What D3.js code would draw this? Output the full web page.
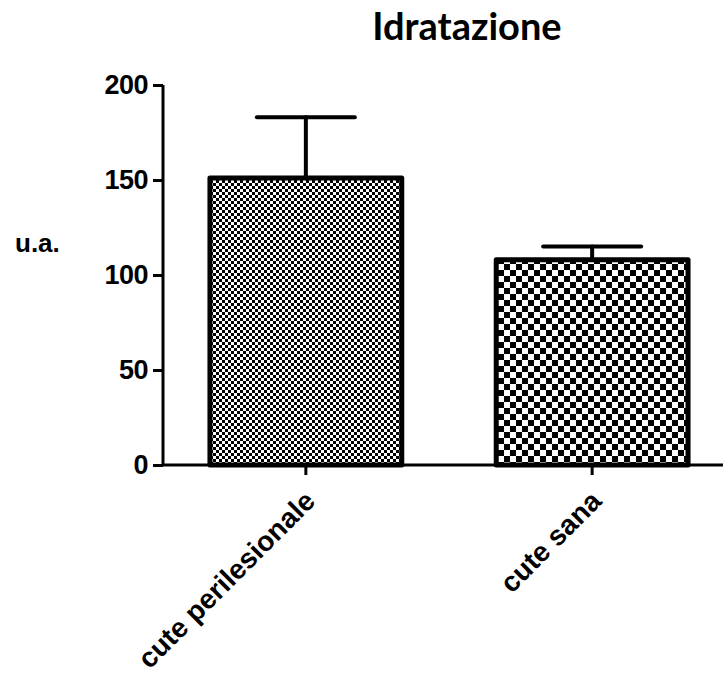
<!DOCTYPE html>
<html>
<head>
<meta charset="utf-8">
<script src="https://cdn.jsdelivr.net/npm/d3@7"></script>
<style>
  html, body { margin: 0; padding: 0; background: #fff; }
  svg { display: block; }
</style>
</head>
<body>
<script>
const categories = ["cute perilesionale", "cute sana"];
const means = [151, 108];
const errors = [32, 7];
const yTicks = [0, 50, 100, 150, 200];
const title = "Idratazione";
const yLabel = "u.a.";

const W = 723, H = 677;
const svg = d3.select("body").append("svg").attr("width", W).attr("height", H);

const defs = svg.append("defs");
function checker(id, s) {
  const p = defs.append("pattern").attr("id", id).attr("patternUnits", "userSpaceOnUse")
    .attr("width", 2 * s).attr("height", 2 * s);
  p.append("rect").attr("width", 2 * s).attr("height", 2 * s).attr("fill", "#fff");
  p.append("rect").attr("width", s).attr("height", s).attr("fill", "#000");
  p.append("rect").attr("x", s).attr("y", s).attr("width", s).attr("height", s).attr("fill", "#000");
}
checker("pat0", 3);
checker("pat1", 6);
const fills = ["url(#pat0)", "url(#pat1)"];

const x0 = 163;
const y = d3.scaleLinear().domain([0, 200]).range([465, 85]);
const x = d3.scaleBand().domain(categories).range([x0, 735]).paddingInner(0.33).paddingOuter(0.164);

// error bars (behind bars)
const eb = svg.append("g").attr("stroke", "#000").attr("stroke-width", 4).attr("stroke-linecap", "round");
categories.forEach((c, i) => {
  const cx = x(c) + x.bandwidth() / 2;
  eb.append("line").attr("x1", cx).attr("x2", cx).attr("y1", y(means[i])).attr("y2", y(means[i] + errors[i]));
  eb.append("line").attr("x1", cx - 49).attr("x2", cx + 49).attr("y1", y(means[i] + errors[i])).attr("y2", y(means[i] + errors[i]));
});

// bars
svg.append("g").selectAll("rect").data(categories).join("rect")
  .attr("x", d => x(d))
  .attr("y", (d, i) => y(means[i]))
  .attr("width", x.bandwidth())
  .attr("height", (d, i) => y(0) - y(means[i]))
  .attr("fill", (d, i) => fills[i])
  .attr("stroke", "#000")
  .attr("stroke-width", 5)
  .attr("stroke-linejoin", "round");

// y axis
const yAxis = svg.append("g").attr("transform", `translate(${x0},0)`)
  .call(d3.axisLeft(y).tickValues(yTicks).tickSize(10).tickPadding(5));
yAxis.select(".domain").attr("stroke-width", 3).attr("d", `M0,${y(0)}V${y(200)}`);
yAxis.selectAll(".tick line").attr("stroke-width", 3);
yAxis.selectAll(".tick text")
  .attr("font-family", "Liberation Sans, Arial, sans-serif")
  .attr("font-weight", "bold").attr("font-size", 27).attr("fill", "#000")
  .attr("letter-spacing", "-0.5");

// x axis
const xAxis = svg.append("g").attr("transform", `translate(0,${y(0)})`)
  .call(d3.axisBottom(x).tickSize(10).tickPadding(4));
xAxis.select(".domain").attr("stroke-width", 3).attr("d", `M${x0},0H${W}`);
xAxis.selectAll(".tick line").attr("stroke-width", 3);
xAxis.selectAll(".tick text")
  .attr("font-family", "Liberation Sans, Arial, sans-serif")
  .attr("font-weight", "bold").attr("font-size", 28).attr("fill", "#000")
  .attr("text-anchor", "end")
  .attr("dy", "0.35em")
  .attr("transform", "translate(-6,21) rotate(-45)");

// title
svg.append("text").attr("x", 467).attr("y", 40).attr("text-anchor", "middle")
  .attr("font-family", "Lato, Open Sans, sans-serif").attr("font-weight", "bold")
  .attr("font-size", 38).attr("fill", "#000").text(title);

// y label
svg.append("text").attr("x", 15).attr("y", 252)
  .attr("font-family", "Liberation Sans, Arial, sans-serif").attr("font-weight", "bold")
  .attr("font-size", 26).attr("fill", "#000").text(yLabel);
</script>
</body>
</html>
